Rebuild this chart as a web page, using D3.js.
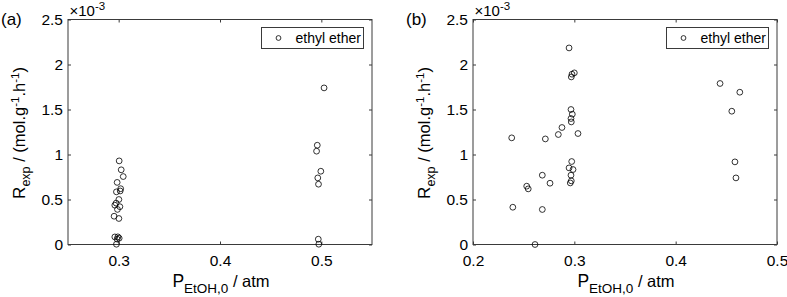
<!DOCTYPE html>
<html>
<head>
<meta charset="utf-8">
<script src="https://cdn.jsdelivr.net/npm/d3@7"></script>
<style>
    body { margin: 0; background: #ffffff; }
    svg { display: block; }
</style>
</head>
<body>
<div id="chart"></div>
<script>
// values, rates in units of 1e-3 mol.g-1.h-1
const pressure_a = [0.3005, 0.3025, 0.3045, 0.2985, 0.3020, 0.2978, 0.3015, 0.3002, 0.2975, 0.2962,
                    0.3012, 0.2988, 0.2955, 0.3002, 0.2962, 0.2992, 0.2985, 0.3005, 0.2978,
                    0.5027, 0.4960, 0.4953, 0.4995, 0.4965, 0.4972, 0.4970, 0.4975];
const rate_a = [0.929, 0.830, 0.755, 0.690, 0.620, 0.585, 0.595, 0.500, 0.460, 0.437,
                0.420, 0.390, 0.314, 0.289, 0.084, 0.085, 0.060, 0.070, 0.003,
                1.740, 1.103, 1.037, 0.814, 0.740, 0.670, 0.059, 0.003];

const pressure_b = [0.2948, 0.2977, 0.3000, 0.2970, 0.2967, 0.2980, 0.2967, 0.2970, 0.2878, 0.2842,
                    0.3036, 0.2382, 0.2714, 0.2974, 0.2948, 0.2987, 0.2967, 0.2970, 0.2960,
                    0.2684, 0.2760, 0.2530, 0.2545, 0.2393, 0.2684, 0.2612,
                    0.4438, 0.4633, 0.4554, 0.4585, 0.4595];
const rate_b = [2.184, 1.892, 1.907, 1.862, 1.500, 1.448, 1.400, 1.362, 1.300, 1.222,
                1.233, 1.185, 1.173, 0.922, 0.851, 0.833, 0.770, 0.707, 0.684,
                0.770, 0.681, 0.648, 0.618, 0.414, 0.389, 0.000,
                1.789, 1.692, 1.481, 0.918, 0.740];

const y_ticks = [0, 0.5, 1, 1.5, 2, 2.5];
const x_ticks_a = [0.3, 0.4, 0.5];
const x_ticks_b = [0.2, 0.3, 0.4, 0.5];
const legend_label = 'ethyl ether';

(function() {
    const width = 787, height = 297;
    const font = '"Liberation Sans", Arial, sans-serif';
    const axis_color = '#3a3a3a';

    let svg = d3.select('#chart').append('svg')
        .attr('width', width)
        .attr('height', height)
        .attr('font-family', font);

    let draw_panel = function(fmt) {
        let w = fmt.right - fmt.left,
            h = fmt.bottom - fmt.top;

        let x = d3.scaleLinear().domain(fmt.xrange).range([0, w]),
            y = d3.scaleLinear().domain([0, 2.5]).range([h, 0]);

        let g = svg.append('g')
            .attr('transform', 'translate(' + fmt.left + ',' + fmt.top + ')');

        let style_axis = function(sel) {
            sel.select('.domain').remove();
            sel.selectAll('line').attr('stroke', axis_color);
            sel.selectAll('text')
                .attr('fill', '#000000')
                .attr('font-family', font)
                .attr('font-size', 15.5);
        };

        g.append('g')
            .attr('transform', 'translate(0,' + h + ')')
            .call(d3.axisBottom(x).tickValues(fmt.xticks).tickFormat(d3.format('.1f'))
                .tickSizeInner(-3).tickSizeOuter(0).tickPadding(10))
            .call(style_axis);

        g.append('g')
            .call(d3.axisTop(x).tickValues(fmt.xticks).tickFormat('')
                .tickSizeInner(-3).tickSizeOuter(0))
            .call(style_axis);

        g.append('g')
            .call(d3.axisLeft(y).tickValues(y_ticks).tickFormat((d) => String(d))
                .tickSizeInner(-3).tickSizeOuter(0).tickPadding(5))
            .call(style_axis);

        g.append('g')
            .attr('transform', 'translate(' + w + ',0)')
            .call(d3.axisRight(y).tickValues(y_ticks).tickFormat('')
                .tickSizeInner(-3).tickSizeOuter(0))
            .call(style_axis);

        // box
        g.append('rect')
            .attr('x', 0)
            .attr('y', 0)
            .attr('width', w)
            .attr('height', h)
            .attr('fill', 'none')
            .attr('stroke', axis_color)
            .attr('stroke-width', 1);

        // exponent
        let ex = g.append('text')
            .attr('x', 1.5)
            .attr('y', -3.5)
            .attr('font-size', 15);
        ex.append('tspan').text('\u00d710');
        ex.append('tspan').text('-3').attr('font-size', 11.5).attr('dy', -6.5);

        let points = fmt.xs.map((d, i) => ({ x: d, y: fmt.ys[i] }));

        g.append('g').selectAll('circle')
            .data(points)
            .enter().append('circle')
            .attr('cx', (d) => x(d.x))
            .attr('cy', (d) => y(d.y))
            .attr('r', 2.9)
            .attr('fill', 'none')
            .attr('stroke', '#000000')
            .attr('stroke-width', 0.8);

        // legend
        let lg = g.append('g')
            .attr('transform', 'translate(' + (w - 110.5) + ',8)');
        lg.append('rect')
            .attr('width', 102)
            .attr('height', 21)
            .attr('fill', '#ffffff')
            .attr('stroke', axis_color)
            .attr('stroke-width', 1);
        lg.append('circle')
            .attr('cx', 17)
            .attr('cy', 10.5)
            .attr('r', 2.4)
            .attr('fill', 'none')
            .attr('stroke', '#000000')
            .attr('stroke-width', 0.8);
        lg.append('text')
            .attr('x', 34)
            .attr('y', 15.5)
            .attr('font-size', 14)
            .text(legend_label);

        // x label
        let xl = svg.append('text')
            .attr('x', fmt.left + w / 2 + 1)
            .attr('y', 287)
            .attr('text-anchor', 'middle');
        xl.append('tspan').text('P').attr('font-size', 17.5);
        xl.append('tspan').text('EtOH,0').attr('font-size', 13.5).attr('dy', 6);
        xl.append('tspan').text(' / atm').attr('font-size', 16.5).attr('dy', -6);

        // y label
        let yl = svg.append('text')
            .attr('transform', 'translate(' + (fmt.left - 43) + ',' + (fmt.top + h / 2 + 1) + ') rotate(-90)')
            .attr('text-anchor', 'middle');
        yl.append('tspan').text('R').attr('font-size', 17);
        yl.append('tspan').text('exp').attr('font-size', 12.5).attr('dy', 4.5);
        yl.append('tspan').text(' / (mol.g').attr('font-size', 16.5).attr('dy', -4.5);
        yl.append('tspan').text('-1').attr('font-size', 11.5).attr('dy', -6.5);
        yl.append('tspan').text('.h').attr('font-size', 16.5).attr('dy', 6.5);
        yl.append('tspan').text('-1').attr('font-size', 11.5).attr('dy', -6.5);
        yl.append('tspan').text(')').attr('font-size', 16.5).attr('dy', 6.5);

        // panel letter
        svg.append('text')
            .attr('x', fmt.letter_x)
            .attr('y', 25)
            .attr('font-size', 17)
            .text(fmt.letter);
    };

    draw_panel({
        left: 68, right: 372, top: 19.5, bottom: 244.5,
        xrange: [0.25, 0.55], xticks: x_ticks_a,
        xs: pressure_a, ys: rate_a,
        letter: '(a)', letter_x: 1
    });

    draw_panel({
        left: 473, right: 777, top: 19.5, bottom: 244.5,
        xrange: [0.2, 0.5], xticks: x_ticks_b,
        xs: pressure_b, ys: rate_b,
        letter: '(b)', letter_x: 406
    });
}());
</script>
</body>
</html>
